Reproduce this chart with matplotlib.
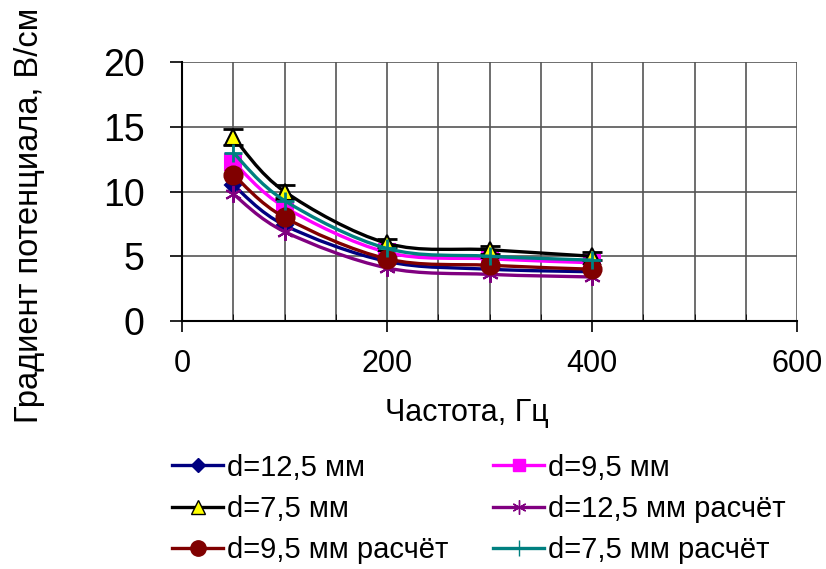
import matplotlib
matplotlib.use("Agg")
import matplotlib.pyplot as plt
from matplotlib.path import Path
from matplotlib.patches import PathPatch
from matplotlib.lines import Line2D

plt.rcParams["font.family"] = ["Liberation Sans", "DejaVu Sans"]

# data
freq = [50, 100, 200, 300, 400]
d125 = [10.5, 7.4, 4.6, 4.0, 3.8]
d95 = [12.3, 8.8, 5.3, 4.8, 4.5]
d75 = [14.2, 10.0, 6.0, 5.5, 5.0]
d75_err = [0.6, 0.5, 0.3, 0.3, 0.3]
d125_calc = [9.8, 6.9, 4.1, 3.6, 3.4]
d95_calc = [11.3, 8.0, 4.8, 4.3, 4.0]
d75_calc = [13.0, 9.3, 5.6, 5.0, 4.7]

labels = ["d=12,5 мм", "d=9,5 мм", "d=7,5 мм",
          "d=12,5 мм расчёт", "d=9,5 мм расчёт", "d=7,5 мм расчёт"]
series = [d125, d95, d75, d125_calc, d95_calc, d75_calc]
colors = ["#000080", "#FF00FF", "#000000", "#800080", "#800000", "#008080"]
faces = ["#000080", "#FF00FF", "#FFFF00", "#800080", "#800000", "#008080"]
markers = ["D", "s", "^", (6, 2, 0), "o", "+"]
msizes = [8, 11, 12, 12, 13, 13]


def smooth_path(xs, ys):
    # excel-like smoothed line: cubic bezier through the points
    pts = list(zip(xs, ys))
    n = len(pts)
    verts = [pts[0]]
    codes = [Path.MOVETO]
    for i in range(n - 1):
        p0 = pts[i - 1] if i > 0 else pts[i]
        p1 = pts[i]
        p2 = pts[i + 1]
        p3 = pts[i + 2] if i + 2 < n else pts[i + 1]
        c1 = (p1[0] + (p2[0] - p0[0]) / 6, p1[1] + (p2[1] - p0[1]) / 6)
        c2 = (p2[0] - (p3[0] - p1[0]) / 6, p2[1] - (p3[1] - p1[1]) / 6)
        verts += [c1, c2, p2]
        codes += [Path.CURVE4] * 3
    return Path(verts, codes)


fig = plt.figure(figsize=(8.26, 5.69), dpi=100)
ax = fig.add_axes([182 / 826, 1 - 321 / 569, 615 / 826, 259 / 569])

for i, ys in enumerate(series):
    ax.add_patch(PathPatch(smooth_path(freq, ys), fill=False,
                           edgecolor=colors[i], lw=2.4, zorder=3 + i))
    if i == 2:
        ax.errorbar(freq, ys, yerr=d75_err, fmt="none", ecolor="black",
                    elinewidth=1.5, capsize=7, capthick=2, zorder=3 + i)
    ax.plot(freq, ys, linestyle="none", marker=markers[i], ms=msizes[i],
            mfc=faces[i], mec=colors[i], mew=1.5 if i != 5 else 2,
            zorder=3.5 + i)

ax.set_xlim(0, 600)
ax.set_ylim(0, 20)
ax.set_xticks([0, 200, 400, 600])
ax.set_xticks(range(0, 601, 50), minor=True)
ax.set_yticks([0, 5, 10, 15, 20])
ax.grid(True, which="both", color="#555555", lw=1.2)
ax.set_axisbelow(True)
for s in ["top", "right"]:
    ax.spines[s].set_visible(False)
for s in ["left", "bottom"]:
    ax.spines[s].set_linewidth(1.5)
ax.tick_params(axis="x", which="major", labelsize=22, length=8,
               width=1.2, direction="out", pad=12)
ax.tick_params(axis="y", which="major", labelsize=27, length=9,
               width=1.2, direction="out", pad=18)
ax.tick_params(axis="x", which="minor", length=5, direction="in")
ax.tick_params(axis="y", which="minor", length=0)

fig.text(467 / 826, 1 - 413 / 569, "Частота, Гц", fontsize=22,
         ha="center", va="center")
fig.text(30 / 826, 1 - 215 / 569, "Градиент потенциала, В/см", fontsize=23.5,
         ha="center", va="center", rotation=90)

handles = []
for i in range(6):
    handles.append(Line2D([], [], color=colors[i], lw=2.4, marker=markers[i],
                          ms=msizes[i] * 0.85, mfc=faces[i], mec=colors[i]))

# two legend columns, filled row by row like the original
for col, (idx, x0) in enumerate([([0, 2, 4], 172), ([1, 3, 5], 493)]):
    leg = fig.legend([handles[k] for k in idx], [labels[k] for k in idx],
                     loc="center left", bbox_to_anchor=(x0 / 826, 1 - 509 / 569),
                     frameon=False, fontsize=21, handlelength=1.75,
                     handletextpad=0.15, labelspacing=0.46, borderpad=0,
                     borderaxespad=0)

fig.savefig("out.png", dpi=100)
